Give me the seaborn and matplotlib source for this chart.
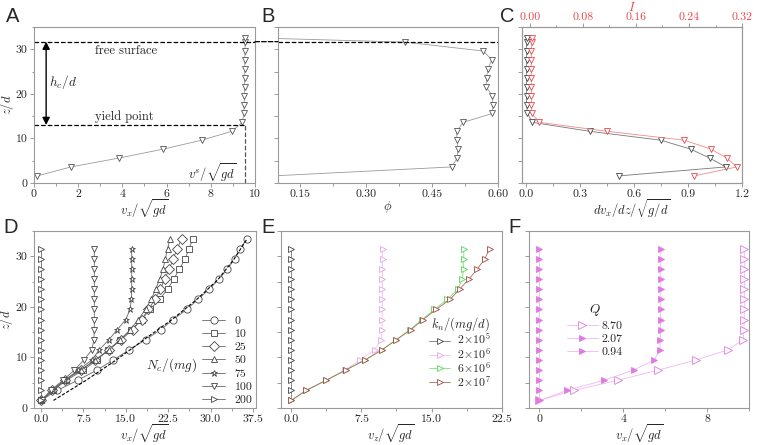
import matplotlib
matplotlib.use("Agg")
import matplotlib.pyplot as plt
import seaborn as sns
from matplotlib.patches import ConnectionPatch
from matplotlib.ticker import MultipleLocator, FormatStrFormatter

sns.set_style("ticks")
plt.rcParams["font.family"] = "serif"
plt.rcParams["font.serif"] = ["cmr10"]
plt.rcParams["mathtext.fontset"] = "cm"
plt.rcParams["axes.formatter.use_mathtext"] = True
plt.rcParams["axes.edgecolor"] = "#9a9a9a"
plt.rcParams["axes.linewidth"] = 0.8

# ---- data ----
# panels A-C: one profile, heights z/d
z_top = [1.6, 3.6, 5.6, 7.6, 9.6, 11.6, 13.6, 15.6, 17.6, 19.6, 21.6, 23.6,
         25.6, 27.6, 29.6, 31.6, 32.6]
vx_a = [0.15, 1.67, 3.85, 5.85, 7.59, 8.95, 9.43, 9.50, 9.51, 9.52, 9.53,
        9.53, 9.54, 9.54, 9.55, 9.55, 9.55]
phi_b = [0.09, 0.495, 0.507, 0.509, 0.507, 0.506, 0.521, 0.587, 0.589, 0.587,
         0.573, 0.574, 0.577, 0.586, 0.567, 0.389, 0.03]
dvdz_c = [0.52, 1.11, 1.02, 0.915, 0.75, 0.355, 0.037, 0.01, 0.005, 0.005,
          0.005, 0.005, 0.005, 0.005, 0.005, 0.005, 0.005]
inert_c = [0.248, 0.312, 0.297, 0.273, 0.233, 0.116, 0.014, 0.003, 0.002,
           0.002, 0.002, 0.002, 0.002, 0.002, 0.002, 0.003, 0.003]
z_free = 31.7
z_yield = 13.0
v_surf = 9.55

# panel D: cohesion N_c/(mg)
z16 = [1.5, 3.5, 5.5, 7.5, 9.5, 11.5, 13.5, 15.5, 17.5, 19.5, 21.5, 23.5,
       25.5, 27.5, 29.5, 31.5]
z17 = [1.5, 3.5, 5.5, 7.5, 9.5, 11.5, 13.5, 15.5, 17.5, 19.5, 21.5, 23.5,
       25.5, 27.5, 29.5, 31.5, 33.5]
nc_0 = [0.0, 2.9, 6.5, 9.9, 12.8, 15.6, 18.5, 21.2, 23.4, 25.8, 27.8, 29.8,
        31.5, 33.0, 34.3, 35.2, 36.5]
nc_10 = [0.0, 2.2, 4.5, 7.5, 9.9, 11.9, 14.0, 16.0, 17.8, 19.3, 21.0, 22.4,
         23.5, 24.5, 25.5, 26.2, 26.9]
nc_25 = [0.0, 2.0, 4.2, 7.0, 9.6, 12.0, 14.2, 16.2, 17.8, 19.0, 20.2, 21.1,
         21.9, 22.7, 23.4, 24.1, 24.9]
nc_50 = [0.0, 2.0, 4.1, 7.0, 9.6, 12.0, 14.0, 15.8, 17.2, 18.5, 19.5, 20.3,
         21.0, 21.6, 22.0, 22.4, 22.8]
nc_75 = [0.1, 2.2, 4.2, 6.6, 9.0, 10.3, 12.0, 13.5, 15.0, 15.75, 16.0, 16.05,
         16.05, 16.05, 16.05, 16.05]
nc_100 = [0.1, 1.7, 3.9, 5.9, 7.6, 9.0, 9.35, 9.43, 9.43, 9.43, 9.43, 9.43,
          9.43, 9.43, 9.43, 9.43]
nc_200 = [0.0, 0.0, 0.0, 0.0, 0.0, 0.0, 0.0, 0.0, 0.0, 0.0, 0.0, 0.0, 0.0,
          0.0, 0.0, 0.0]
fit_z = [1.5, 5.5, 9.5, 13.5, 17.5, 21.5, 25.5, 29.5, 33.5]
fit_v = [2.2, 8.0, 13.3, 18.2, 23.2, 27.6, 31.4, 34.2, 36.5]
nc_labels = ["0", "10", "25", "50", "75", "100", "200"]

# panel E: stiffness k_n/(mg/d)
kn_a = [0.0, 0.0, 0.0, 0.0, 0.0, 0.0, 0.0, 0.0, 0.0, 0.0, 0.0, 0.0, 0.0,
        0.0, 0.0, 0.0]
kn_b = [0.0, 1.6, 3.75, 5.75, 7.36, 8.9, 9.6, 9.7, 9.72, 9.73, 9.74, 9.75,
        9.75, 9.75, 9.76, 9.76]
kn_c = [0.0, 1.6, 3.75, 5.8, 7.9, 9.7, 11.2, 12.7, 14.0, 15.3, 16.7, 17.8,
        18.3, 18.42, 18.45, 18.45]
kn_d = [0.0, 1.6, 3.75, 5.8, 7.9, 9.7, 11.25, 12.8, 14.1, 15.5, 17.0, 18.0,
        19.0, 19.9, 20.7, 21.2]
kn_labels = [r"$2\!\times\!10^5$", r"$2\!\times\!10^6$", r"$6\!\times\!10^6$",
             r"$2\!\times\!10^7$"]

# panel F: flow rate Q
q_a = [0.0, 1.65, 3.76, 5.67, 7.47, 9.0, 9.72, 9.76, 9.77, 9.78, 9.78, 9.78,
       9.78, 9.78, 9.78, 9.78]
q_b = [0.0, 1.33, 3.08, 4.5, 5.47, 5.75, 5.77, 5.78, 5.78, 5.79, 5.79, 5.79,
       5.79, 5.79, 5.79, 5.79]
q_c = [0.0, 0.0, 0.0, 0.0, 0.0, 0.0, 0.0, 0.0, 0.0, 0.0, 0.0, 0.0, 0.0, 0.0,
       0.0, 0.0]
q_labels = ["8.70", "2.07", "0.94"]

red = "#e8474c"
fs_tick = 8.5
fs_lab = 9


def prof(ax, x, y, marker, ec, lc, ms=4.5, mfc="white", lw=0.6, ls="-"):
    sns.lineplot(x=x, y=y, sort=False, estimator=None, ax=ax, marker=marker,
                 color=lc, mec=ec, mfc=mfc, ms=ms, mew=0.6, lw=lw, ls=ls,
                 legend=False)
    return ax.lines[-1]


def style(ax, xmaj, xmin, fmt, labely=False):
    ax.xaxis.set_major_locator(MultipleLocator(xmaj))
    ax.xaxis.set_minor_locator(MultipleLocator(xmin))
    ax.xaxis.set_major_formatter(FormatStrFormatter(fmt))
    ax.yaxis.set_major_locator(MultipleLocator(10))
    ax.yaxis.set_minor_locator(MultipleLocator(5))
    ax.yaxis.set_major_formatter(FormatStrFormatter("%d"))
    ax.set_ylim(0, 35)
    ax.tick_params(which="both", direction="out", color="#8a8a8a", width=0.6,
                   labelsize=fs_tick, pad=1.5)
    ax.tick_params(which="major", length=3)
    ax.tick_params(which="minor", length=1.8)
    if labely:
        ax.set_ylabel("$z/d$", fontsize=fs_lab)
        ax.yaxis.set_label_coords(-0.082, 0.5)
    else:
        ax.set_ylabel("")
        ax.tick_params(axis="y", which="both", labelleft=False)
        ax.yaxis.set_major_locator(MultipleLocator(5))


fig = plt.figure(figsize=(7.57, 4.45), dpi=100)
ax_a = fig.add_axes([0.0449, 0.5888, 0.2919, 0.3506])
ax_b = fig.add_axes([0.3672, 0.5888, 0.2906, 0.3506])
ax_c = fig.add_axes([0.6896, 0.5888, 0.2906, 0.3506])
ax_d = fig.add_axes([0.0445, 0.0831, 0.2933, 0.3978])
ax_e = fig.add_axes([0.3712, 0.0831, 0.2915, 0.3978])
ax_f = fig.add_axes([0.6988, 0.0831, 0.2906, 0.3978])

# ---- A ----
prof(ax_a, vx_a, z_top, "v", "#555555", "#9a9a9a")
ax_a.set_xlim(0, 10)
style(ax_a, 2, 1, "%d", labely=True)
ax_a.set_xlabel(r"$v_x/\sqrt{gd}$", fontsize=fs_lab, labelpad=-1)
ax_a.axhline(z_free, color="k", ls="--", lw=0.9)
ax_a.hlines(z_yield, 0, v_surf, color="k", ls="--", lw=0.9)
ax_a.vlines(v_surf, 0, z_yield, color="#555555", ls="--", lw=0.9)
ax_a.annotate("", xy=(0.55, z_yield), xytext=(0.55, z_free),
              arrowprops=dict(arrowstyle="<|-|>", color="k", lw=1.0,
                              mutation_scale=11, shrinkA=0, shrinkB=0))
ax_a.text(2.75, 29.6, "free surface", fontsize=9, va="center")
ax_a.text(2.75, 14.8, "yield point", fontsize=9, va="center")
ax_a.text(0.7, 22.6, "$h_c/d$", fontsize=9.5, va="center")
ax_a.text(9.2, 2.3, r"$v^s/\sqrt{gd}$", fontsize=9, va="center", ha="right")

# ---- B ----
prof(ax_b, phi_b, z_top, "v", "#555555", "#9a9a9a")
ax_b.set_xlim(0.1, 0.6)
style(ax_b, 0.15, 0.075, "%.2f")
ax_b.set_xticks([0.15, 0.30, 0.45, 0.60])
ax_b.set_xlabel(r"$\phi$", fontsize=fs_lab, labelpad=0)
ax_b.axhline(z_free, color="k", ls="--", lw=0.9)
con = ConnectionPatch(xyA=(10, z_free), coordsA=ax_a.transData,
                      xyB=(0.1, z_free), coordsB=ax_b.transData,
                      color="k", ls="--", lw=0.9)
fig.add_artist(con)

# ---- C ----
prof(ax_c, dvdz_c, z_top, "v", "#444444", "#777777")
ax_c.set_xlim(-0.02, 1.2)
style(ax_c, 0.3, 0.15, "%.1f")
ax_c.set_xlabel(r"$dv_x/dz/\sqrt{g/d}$", fontsize=fs_lab, labelpad=-1)
ax_c2 = ax_c.twiny()
prof(ax_c2, inert_c, z_top, "v", red, "#f08a8a")
ax_c2.set_xlim(-0.012, 0.32)
ax_c2.set_ylim(0, 35)
ax_c2.xaxis.set_major_locator(MultipleLocator(0.08))
ax_c2.xaxis.set_minor_locator(MultipleLocator(0.04))
ax_c2.xaxis.set_major_formatter(FormatStrFormatter("%.2f"))
ax_c2.tick_params(which="both", direction="out", color="#8a8a8a", width=0.6,
                  labelsize=fs_tick, labelcolor=red, pad=0.8)
ax_c2.tick_params(which="major", length=3)
ax_c2.tick_params(which="minor", length=1.8)
ax_c2.set_xlabel("$I$", color=red, fontsize=fs_lab, labelpad=0.5)
ax_c2.set_ylabel("")

# ---- D ----
d_series = [(nc_0, z17, "o", 5.2), (nc_10, z17, "s", 4.8), (nc_25, z17, "D", 5.0),
            (nc_50, z17, "^", 4.8), (nc_75, z16, "*", 5.0), (nc_100, z16, "v", 4.8),
            (nc_200, z16, ">", 4.3)]
d_handles = []
for vals, zz, mk, ms in d_series:
    d_handles.append(prof(ax_d, vals, zz, mk, "#444444", "#666666", ms=ms))
sns.lineplot(x=fit_v, y=fit_z, sort=False, estimator=None, ax=ax_d,
             color="k", lw=0.8, ls=(0, (3, 1.5)), legend=False)
ax_d.set_xlim(-1.3, 38)
style(ax_d, 7.5, 3.75, "%.1f", labely=True)
ax_d.set_xlabel(r"$v_x/\sqrt{gd}$", fontsize=fs_lab, labelpad=-1)
ax_d.legend(d_handles, nc_labels, loc="lower right", bbox_to_anchor=(1.0, 0.0),
            frameon=False, fontsize=8.5, handlelength=2.0, labelspacing=0.25,
            handletextpad=0.8, borderaxespad=0.15, borderpad=0.1)
ax_d.text(0.735, 0.245, "$N_c/(mg)$", transform=ax_d.transAxes, fontsize=9.5,
          ha="right", va="center")

# ---- E ----
e_cols = [("#444444", "#777777"), ("#e4a6e4", "#eec4ee"),
          ("#4fd84f", "#7ee07e"), ("#9c4a40", "#b06a60")]
e_handles = []
for vals, (ec, lc) in zip([kn_a, kn_b, kn_c, kn_d], e_cols):
    e_handles.append(prof(ax_e, vals, z16, ">", ec, lc, ms=4.3))
ax_e.set_xlim(-1.1, 22.5)
style(ax_e, 7.5, 3.75, "%.1f")
ax_e.set_xlabel(r"$v_z/\sqrt{gd}$", fontsize=fs_lab, labelpad=-1)
ax_e.legend(e_handles, kn_labels, loc="lower right", bbox_to_anchor=(0.985, 0.07),
            frameon=False, fontsize=8.5, handlelength=1.8, labelspacing=-0.1,
            handletextpad=0.6, borderpad=0.1, title="$k_n/(mg/d)$",
            title_fontsize=9)

# ---- F ----
mag = "#e07be0"
f_handles = [prof(ax_f, q_a, z16, ">", mag, "#f0b8f0", ms=5.2, mfc="white"),
             prof(ax_f, q_b, z16, ">", mag, "#f0b8f0", ms=4.5, mfc=mag),
             prof(ax_f, q_c, z16, ">", mag, "#f0b8f0", ms=4.5, mfc=mag)]
ax_f.set_xlim(-0.5, 10)
style(ax_f, 4, 2, "%d")
ax_f.set_xlabel(r"$v_x/\sqrt{gd}$", fontsize=fs_lab, labelpad=-1)
ax_f.legend(f_handles, q_labels, loc="upper left", bbox_to_anchor=(0.14, 0.64),
            frameon=False, fontsize=8.5, handlelength=2.6, labelspacing=0.25,
            handletextpad=0.3, borderpad=0.1, title="$Q$", title_fontsize=9.5)

# ---- panel letters ----
for lab, x, y in [("A", 0.008, 0.985), ("B", 0.345, 0.985), ("C", 0.661, 0.985),
                  ("D", 0.004, 0.51), ("E", 0.345, 0.51), ("F", 0.672, 0.51)]:
    fig.text(x, y, lab, fontsize=14.5, family="Liberation Sans", va="top")

plt.savefig("out.png", dpi=100)
